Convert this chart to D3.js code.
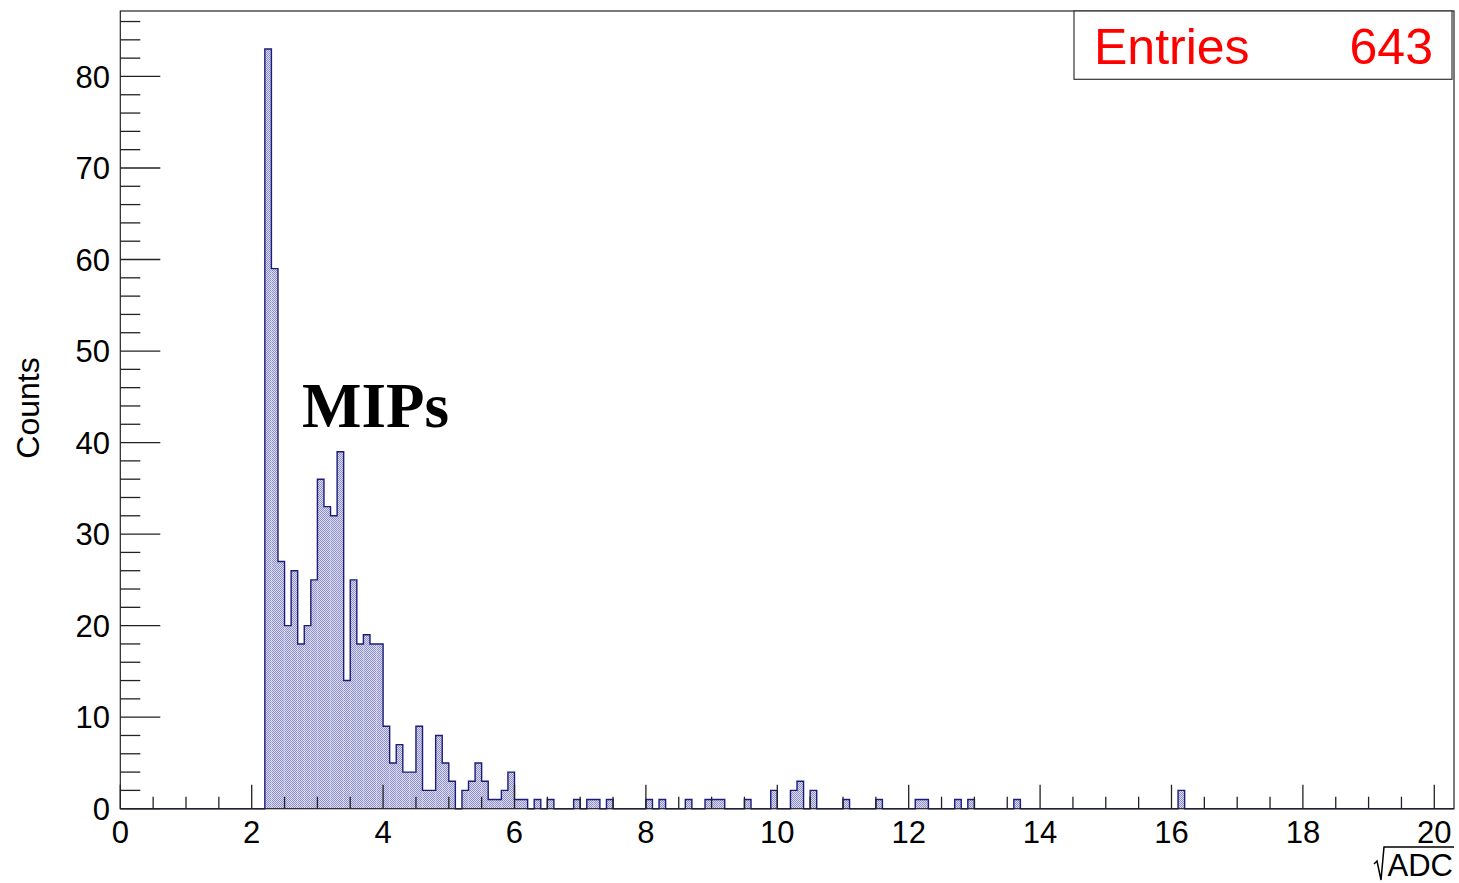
<!DOCTYPE html>
<html>
<head>
<meta charset="utf-8">
<script src="https://cdn.jsdelivr.net/npm/d3@7"></script>
<style>
  body { margin: 0; background: #fff; }
  svg { display: block; }
  .sans { font-family: "Liberation Sans", Arial, Helvetica, sans-serif; }
  .serif { font-family: "Liberation Serif", "Times New Roman", serif; }
</style>
</head>
<body>
<svg id="chart" width="1459" height="883"></svg>
<script>
var width = 1459, height = 883;

// histogram: low edges of the non-empty bins (bin width 0.1) and their counts
var binWidth = 0.1;
var binLowEdges = [2.2,2.3,2.4,2.5,2.6,2.7,2.8,2.9,3.0,3.1,3.2,3.3,3.4,3.5,3.6,3.7,3.8,3.9,
    4.0,4.1,4.2,4.3,4.4,4.5,4.6,4.7,4.8,4.9,5.0,5.2,5.3,5.4,5.5,5.6,5.7,5.8,5.9,6.0,6.1,
    6.3,6.5,6.9,7.1,7.2,7.4,8.0,8.2,8.6,8.9,9.0,9.1,9.5,9.9,10.2,10.3,10.5,11.0,11.5,
    12.1,12.2,12.7,12.9,13.6,16.1];
var binCounts = [83,59,27,20,26,18,20,25,36,33,32,39,14,25,18,19,18,18,
    9,5,7,4,4,9,2,2,8,5,3,2,3,5,3,1,1,2,4,1,1,
    1,1,1,1,1,1,1,1,1,1,1,1,1,2,2,3,2,1,1,
    1,1,1,1,1,2];

var xTickValues = [0,2,4,6,8,10,12,14,16,18,20];
var yTickValues = [0,10,20,30,40,50,60,70,80];
var entries = 643;

var frame = {left: 120.3, right: 1454, top: 11, bottom: 808.7};

var x = d3.scaleLinear().domain([0, 20.3]).range([frame.left, frame.right]);
var y = d3.scaleLinear().domain([0, d3.max(binCounts) * 1.05]).range([frame.bottom, frame.top]);

var svg = d3.select("#chart");

// checker pattern like ROOT hatch fill
var defs = svg.append("defs");
var pat = defs.append("pattern").attr("id", "hatch")
    .attr("width", 2).attr("height", 2).attr("patternUnits", "userSpaceOnUse");
pat.append("rect").attr("width", 2).attr("height", 2).attr("fill", "#dcdcf0");
pat.append("rect").attr("width", 1).attr("height", 1).attr("fill", "#8e8ec8");
pat.append("rect").attr("x", 1).attr("y", 1).attr("width", 1).attr("height", 1).attr("fill", "#8e8ec8");

var bins = binLowEdges.map(function(e, i) { return {lo: e, hi: e + binWidth, n: binCounts[i]}; });

svg.append("g").selectAll("rect").data(bins).enter().append("rect")
    .attr("x", function(d) { return x(d.lo); })
    .attr("width", function(d) { return x(d.hi) - x(d.lo); })
    .attr("y", function(d) { return y(d.n); })
    .attr("height", function(d) { return y(0) - y(d.n); })
    .attr("fill", "url(#hatch)");

// outline: step line over all bins, empty ones on the baseline
var nBins = Math.round(20.3 / binWidth);
var full = d3.range(nBins).map(function() { return 0; });
bins.forEach(function(d) { full[Math.round(d.lo / binWidth)] = d.n; });
var pts = [[x(0), y(0)]];
full.forEach(function(n, i) {
    pts.push([x(i * binWidth), y(n)]);
    pts.push([x((i + 1) * binWidth), y(n)]);
});
pts.push([x(20.3), y(0)]);
svg.append("path").attr("d", d3.line()(pts))
    .attr("fill", "none").attr("stroke", "#1c1c7c").attr("stroke-width", 1.4);

// frame
svg.append("rect")
    .attr("x", frame.left).attr("y", frame.top)
    .attr("width", frame.right - frame.left).attr("height", frame.bottom - frame.top)
    .attr("fill", "none").attr("stroke", "#222").attr("stroke-width", 1.2);

// x axis, ticks pointing up
var xMinor = d3.range(0, 20.3, 0.5);
var gx = svg.append("g").attr("stroke", "#222").attr("stroke-width", 1.3);
gx.selectAll("line").data(xMinor).enter().append("line")
    .attr("x1", function(d) { return x(d); }).attr("x2", function(d) { return x(d); })
    .attr("y1", y(0))
    .attr("y2", function(d) { return y(0) - (d % 2 === 0 ? 24 : 12); });
svg.append("g").attr("class", "sans").selectAll("text").data(xTickValues).enter().append("text")
    .attr("x", function(d) { return x(d); }).attr("y", 843)
    .attr("text-anchor", "middle").attr("font-size", 31).attr("fill", "#000")
    .text(function(d) { return d; });

// y axis, ticks pointing right
var yMinor = d3.range(0, 87, 2);
var gy = svg.append("g").attr("stroke", "#222").attr("stroke-width", 1.3);
gy.selectAll("line").data(yMinor).enter().append("line")
    .attr("x1", frame.left)
    .attr("x2", function(d) { return frame.left + (d % 10 === 0 ? 40 : 20); })
    .attr("y1", function(d) { return y(d); }).attr("y2", function(d) { return y(d); });
svg.append("g").attr("class", "sans").selectAll("text").data(yTickValues).enter().append("text")
    .attr("x", 110).attr("y", function(d) { return y(d); })
    .attr("dy", "0.36em")
    .attr("text-anchor", "end").attr("font-size", 31).attr("fill", "#000")
    .text(function(d) { return d; });

// axis titles
svg.append("text").attr("class", "sans")
    .attr("transform", "translate(39,408) rotate(-90)")
    .attr("text-anchor", "middle").attr("font-size", 32).attr("fill", "#000")
    .text("Counts");
svg.append("text").attr("class", "sans")
    .attr("x", 1453).attr("y", 876)
    .attr("text-anchor", "end").attr("font-size", 31).attr("fill", "#000")
    .text("ADC");
svg.append("path")
    .attr("d", "M1374,864 L1377,861 L1381,880 L1384,847 L1454,847")
    .attr("fill", "none").attr("stroke", "#000").attr("stroke-width", 1.5);

// annotation
svg.append("text").attr("class", "serif")
    .attr("x", 302).attr("y", 427)
    .attr("font-weight", "bold").attr("font-size", 63).attr("fill", "#000")
    .text("MIPs");

// stats box
svg.append("rect")
    .attr("x", 1074).attr("y", frame.top)
    .attr("width", 1452 - 1074).attr("height", 79.3 - frame.top)
    .attr("fill", "#fff").attr("stroke", "#333").attr("stroke-width", 1.2);
svg.append("text").attr("class", "sans")
    .attr("x", 1094).attr("y", 64)
    .attr("font-size", 50).attr("fill", "#f00")
    .text("Entries");
svg.append("text").attr("class", "sans")
    .attr("x", 1433).attr("y", 64)
    .attr("text-anchor", "end").attr("font-size", 50).attr("fill", "#f00")
    .text(entries);
</script>
</body>
</html>
